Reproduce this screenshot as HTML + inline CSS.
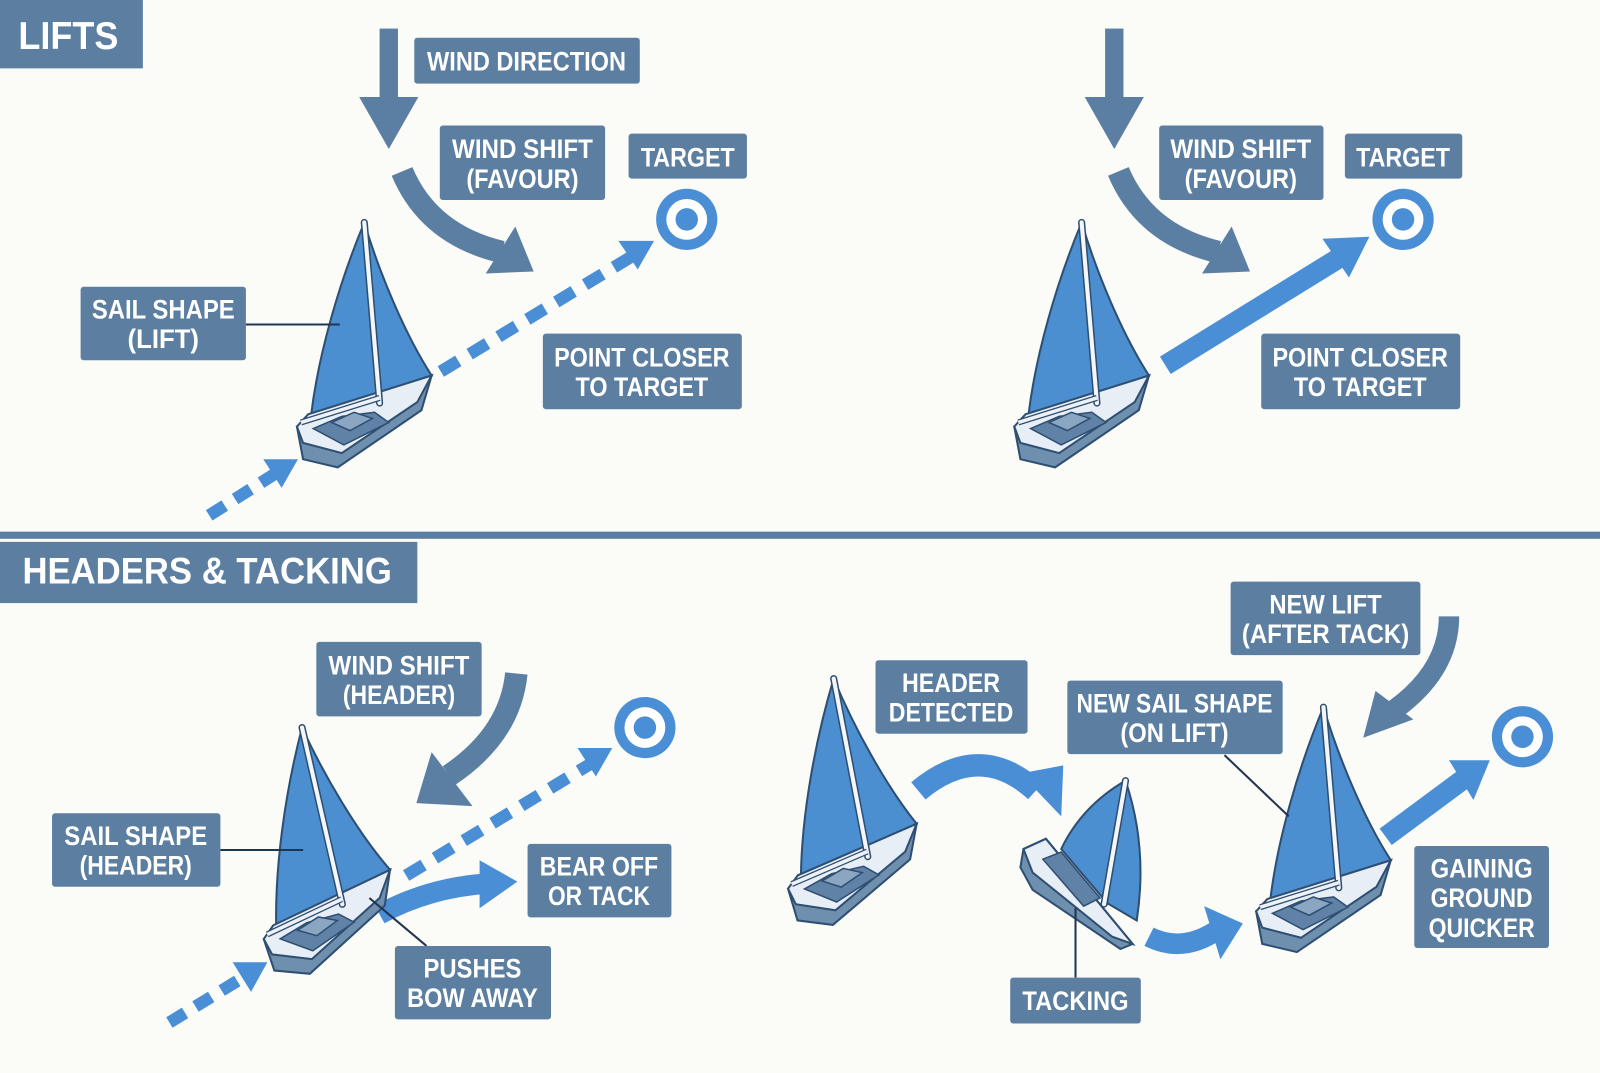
<!DOCTYPE html>
<html><head><meta charset="utf-8"><style>
html,body{margin:0;padding:0;background:#fbfbf8;}
svg{display:block;}
.lb{fill:#5c7fa1;}
.t{fill:#fff;font-family:"Liberation Sans Narrow","Liberation Sans",sans-serif;font-weight:bold;font-size:26px;text-anchor:middle;}
</style></head><body>
<svg width="1600" height="1073" viewBox="0 0 1568 1051.5" preserveAspectRatio="none" xmlns="http://www.w3.org/2000/svg">
<defs>
<g id="boat">
  <path d="M0,0 C-25,60 -45,130 -52,188 L66,150 C40,110 15,50 0,0Z" fill="#4b8fd0" stroke="#2e4f72" stroke-width="2"/>
  <path d="M-66,200 L-60,232 L-26,240 L56,184 L66,150 Z" fill="#6f8fae" stroke="#2e4f72" stroke-width="2"/>
  <path d="M-66,200 L-55,188 L66,150 L52,176 L-22,226 L-60,216 Z" fill="#e8eef5" stroke="#2e4f72" stroke-width="2"/>
  <path d="M-50,202 L-22,190 L10,186 L24,196 L-20,218 Z" fill="#5f82a6" stroke="#2e4f72" stroke-width="1.5"/>
  <path d="M-32,196 L-10,186 L8,192 L-14,204Z" fill="#8aa6c2" stroke="#2e4f72" stroke-width="1.5"/>
  <line x1="0" y1="0" x2="15" y2="177" stroke="#2e4f72" stroke-width="7" stroke-linecap="round"/>
  <line x1="0" y1="0" x2="15" y2="177" stroke="#f4f7fa" stroke-width="4" stroke-linecap="round"/>
  <line x1="-62" y1="196" x2="15" y2="172" stroke="#2e4f72" stroke-width="6"/>
  <line x1="-62" y1="196" x2="15" y2="172" stroke="#eef2f6" stroke-width="3.5"/>
</g>
<g id="tgt"><circle r="30" fill="#4a8fd6"/><circle r="20" fill="#fff"/><circle r="11" fill="#4a8fd6"/></g>
</defs>

<!-- LIFTS -->
<rect class="lb" x="0" y="0" width="140" height="67"/>
<text class="t" x="67" y="48" style="font-size:38px" textLength="98" lengthAdjust="spacingAndGlyphs">LIFTS</text>

<rect x="372" y="28" width="18" height="70" fill="#5b7fa3"/>
<polygon points="352,95 410,95 381,146" fill="#5b7fa3"/>
<rect class="lb" x="406" y="37" width="221" height="45" rx="3"/>
<text class="t" x="516" y="69" textLength="195" lengthAdjust="spacingAndGlyphs">WIND DIRECTION</text>

<rect class="lb" x="431" y="123" width="162" height="73" rx="3"/>
<text class="t" x="512" y="155" textLength="138" lengthAdjust="spacingAndGlyphs">WIND SHIFT</text>
<text class="t" x="512" y="184" textLength="110" lengthAdjust="spacingAndGlyphs">(FAVOUR)</text>
<rect class="lb" x="616" y="131" width="116" height="44" rx="3"/>
<text class="t" x="674" y="163" textLength="92" lengthAdjust="spacingAndGlyphs">TARGET</text>
<use href="#tgt" x="673" y="215"/>

<path d="M394,168 Q420,230 492,247" fill="none" stroke="#5b7fa3" stroke-width="22"/>
<polygon points="505,222 523,266 476,268" fill="#5b7fa3"/>

<line x1="205" y1="505" x2="270" y2="464" stroke="#4a8fd6" stroke-width="12" stroke-dasharray="18,12"/>
<polygon points="258,450 292,450 276,478" fill="#4a8fd6"/>
<line x1="432" y1="364" x2="618" y2="252" stroke="#4a8fd6" stroke-width="12" stroke-dasharray="20,13"/>
<polygon points="606,236 641,236 625,264" fill="#4a8fd6"/>

<rect class="lb" x="79" y="281" width="162" height="72" rx="3"/>
<text class="t" x="160" y="312" textLength="140" lengthAdjust="spacingAndGlyphs">SAIL SHAPE</text>
<text class="t" x="160" y="341" textLength="70" lengthAdjust="spacingAndGlyphs">(LIFT)</text>
<use href="#boat" x="357" y="218"/>
<line x1="241" y1="318" x2="333" y2="318" stroke="#1f3550" stroke-width="2"/>

<rect class="lb" x="532" y="327" width="195" height="74" rx="3"/>
<text class="t" x="629" y="359" textLength="172" lengthAdjust="spacingAndGlyphs">POINT CLOSER</text>
<text class="t" x="629" y="388" textLength="130" lengthAdjust="spacingAndGlyphs">TO TARGET</text>

<!-- top-right -->
<rect x="1083" y="28" width="18" height="70" fill="#5b7fa3"/>
<polygon points="1063,95 1121,95 1092,146" fill="#5b7fa3"/>
<rect class="lb" x="1136" y="123" width="161" height="73" rx="3"/>
<text class="t" x="1216" y="155" textLength="138" lengthAdjust="spacingAndGlyphs">WIND SHIFT</text>
<text class="t" x="1216" y="184" textLength="110" lengthAdjust="spacingAndGlyphs">(FAVOUR)</text>
<rect class="lb" x="1318" y="131" width="115" height="44" rx="3"/>
<text class="t" x="1375" y="163" textLength="92" lengthAdjust="spacingAndGlyphs">TARGET</text>
<use href="#tgt" x="1375" y="215"/>
<path d="M1096,168 Q1122,230 1194,247" fill="none" stroke="#5b7fa3" stroke-width="22"/>
<polygon points="1207,222 1225,266 1178,268" fill="#5b7fa3"/>
<line x1="1142" y1="358" x2="1312" y2="253" stroke="#4a8fd6" stroke-width="20"/>
<polygon points="1296,234 1342,232 1322,272" fill="#4a8fd6"/>
<use href="#boat" x="1060" y="218"/>
<rect class="lb" x="1236" y="327" width="195" height="74" rx="3"/>
<text class="t" x="1333" y="359" textLength="172" lengthAdjust="spacingAndGlyphs">POINT CLOSER</text>
<text class="t" x="1333" y="388" textLength="130" lengthAdjust="spacingAndGlyphs">TO TARGET</text>

<rect x="0" y="521" width="1568" height="7" fill="#5b7fa3"/>
<rect class="lb" x="0" y="531" width="409" height="60"/>
<text class="t" x="203" y="572" style="font-size:36px" textLength="362" lengthAdjust="spacingAndGlyphs">HEADERS &amp; TACKING</text>

<!-- bottom-left -->
<rect class="lb" x="310" y="629" width="162" height="73" rx="3"/>
<text class="t" x="391" y="661" textLength="138" lengthAdjust="spacingAndGlyphs">WIND SHIFT</text>
<text class="t" x="391" y="690" textLength="110" lengthAdjust="spacingAndGlyphs">(HEADER)</text>
<path d="M506,660 Q500,720 440,760" fill="none" stroke="#5b7fa3" stroke-width="22"/>
<polygon points="423,737 463,790 408,787" fill="#5b7fa3"/>
<use href="#tgt" x="632" y="713"/>
<line x1="166" y1="1002" x2="238" y2="958" stroke="#4a8fd6" stroke-width="12" stroke-dasharray="18,12"/>
<polygon points="228,943 262,943 246,972" fill="#4a8fd6"/>
<line x1="398" y1="858" x2="578" y2="749" stroke="#4a8fd6" stroke-width="12" stroke-dasharray="20,13"/>
<polygon points="566,733 600,733 584,761" fill="#4a8fd6"/>
<rect class="lb" x="51" y="797" width="165" height="72" rx="3"/>
<text class="t" x="133" y="828" textLength="140" lengthAdjust="spacingAndGlyphs">SAIL SHAPE</text>
<text class="t" x="133" y="857" textLength="110" lengthAdjust="spacingAndGlyphs">(HEADER)</text>
<path d="M372,896 Q420,870 476,866" fill="none" stroke="#4a8fd6" stroke-width="20"/>
<polygon points="470,843 507,864 470,890" fill="#4a8fd6"/>
<use href="#boat" x="296" y="713" transform="rotate(-8 296 713)"/>
<line x1="216" y1="833" x2="297" y2="833" stroke="#1f3550" stroke-width="2"/>
<line x1="362" y1="880" x2="418" y2="927" stroke="#1f3550" stroke-width="2"/>
<rect class="lb" x="517" y="827" width="141" height="72" rx="3"/>
<text class="t" x="587" y="858" textLength="116" lengthAdjust="spacingAndGlyphs">BEAR OFF</text>
<text class="t" x="587" y="887" textLength="100" lengthAdjust="spacingAndGlyphs">OR TACK</text>
<rect class="lb" x="387" y="927" width="153" height="72" rx="3"/>
<text class="t" x="463" y="958" textLength="96" lengthAdjust="spacingAndGlyphs">PUSHES</text>
<text class="t" x="463" y="987" textLength="128" lengthAdjust="spacingAndGlyphs">BOW AWAY</text>

<!-- bottom-right -->
<use href="#boat" x="817" y="665" transform="rotate(-6 817 665)"/>
<rect class="lb" x="858" y="647" width="149" height="72" rx="3"/>
<text class="t" x="932" y="678" textLength="96" lengthAdjust="spacingAndGlyphs">HEADER</text>
<text class="t" x="932" y="707" textLength="122" lengthAdjust="spacingAndGlyphs">DETECTED</text>
<path d="M900,775 Q960,725 1015,775" fill="none" stroke="#4a8fd6" stroke-width="22"/>
<polygon points="1000,758 1040,800 1042,750" fill="#4a8fd6"/>

<!-- tacking boat (custom) -->
<path d="M1003,832 L1000,850 L1012,872 L1098,930 L1110,925 L1025,822 Z" fill="#6f8fae" stroke="#2e4f72" stroke-width="2"/>
<path d="M1003,832 L1025,822 L1110,925 L1090,918 L1012,855 Z" fill="#e8eef5" stroke="#2e4f72" stroke-width="2"/>
<path d="M1022,842 L1040,835 L1078,880 L1062,888 Z" fill="#5f82a6" stroke="#2e4f72" stroke-width="1.5"/>
<path d="M1103,765 Q1060,790 1040,832 L1085,885 Z" fill="#4b8fd0" stroke="#2e4f72" stroke-width="2"/>
<path d="M1103,765 Q1125,830 1114,902 L1085,885 Z" fill="#4b8fd0" stroke="#2e4f72" stroke-width="2"/>
<line x1="1103" y1="765" x2="1082" y2="886" stroke="#2e4f72" stroke-width="7" stroke-linecap="round"/>
<line x1="1103" y1="765" x2="1082" y2="886" stroke="#f4f7fa" stroke-width="4" stroke-linecap="round"/>

<line x1="1054" y1="890" x2="1054" y2="958" stroke="#1f3550" stroke-width="2"/>
<rect class="lb" x="990" y="958" width="128" height="45" rx="3"/>
<text class="t" x="1054" y="990" textLength="104" lengthAdjust="spacingAndGlyphs">TACKING</text>
<path d="M1126,918 Q1160,935 1195,910" fill="none" stroke="#4a8fd6" stroke-width="20"/>
<polygon points="1180,888 1218,905 1196,940" fill="#4a8fd6"/>
<use href="#boat" x="1297" y="693"/>
<rect class="lb" x="1046" y="667" width="211" height="72" rx="3"/>
<text class="t" x="1151" y="698" textLength="192" lengthAdjust="spacingAndGlyphs">NEW SAIL SHAPE</text>
<text class="t" x="1151" y="727" textLength="106" lengthAdjust="spacingAndGlyphs">(ON LIFT)</text>
<line x1="1200" y1="740" x2="1263" y2="800" stroke="#1f3550" stroke-width="2"/>
<rect class="lb" x="1206" y="570" width="186" height="72" rx="3"/>
<text class="t" x="1299" y="601" textLength="110" lengthAdjust="spacingAndGlyphs">NEW LIFT</text>
<text class="t" x="1299" y="630" textLength="164" lengthAdjust="spacingAndGlyphs">(AFTER TACK)</text>
<path d="M1420,604 Q1420,660 1360,700" fill="none" stroke="#5b7fa3" stroke-width="20"/>
<polygon points="1348,677 1385,705 1336,723" fill="#5b7fa3"/>
<use href="#tgt" x="1492" y="722"/>
<line x1="1358" y1="820" x2="1435" y2="763" stroke="#4a8fd6" stroke-width="20"/>
<polygon points="1420,745 1460,745 1444,784" fill="#4a8fd6"/>
<rect class="lb" x="1386" y="829" width="132" height="100" rx="3"/>
<text class="t" x="1452" y="860" textLength="100" lengthAdjust="spacingAndGlyphs">GAINING</text>
<text class="t" x="1452" y="889" textLength="100" lengthAdjust="spacingAndGlyphs">GROUND</text>
<text class="t" x="1452" y="918" textLength="104" lengthAdjust="spacingAndGlyphs">QUICKER</text>
</svg>
</body></html>
